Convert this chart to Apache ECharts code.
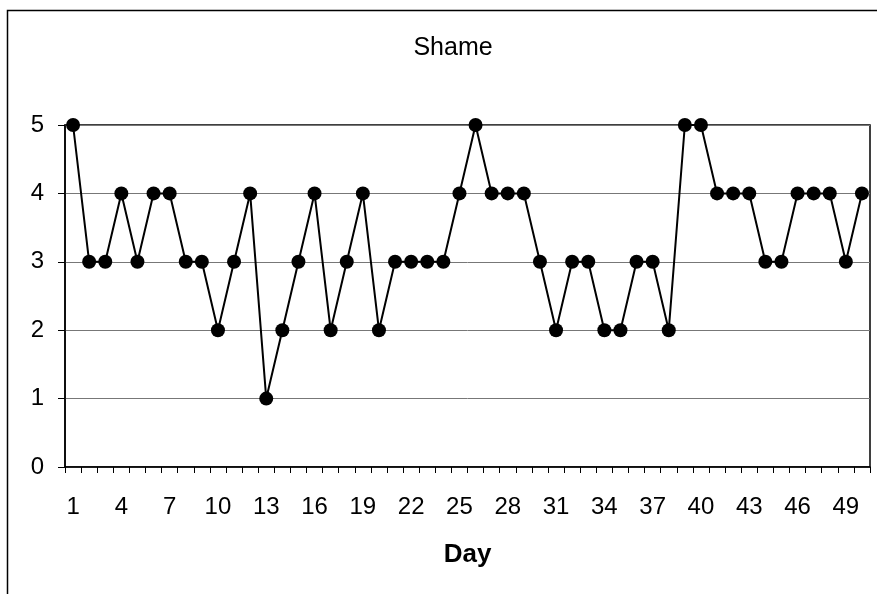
<!DOCTYPE html>
<html><head><meta charset="utf-8">
<script src="https://cdn.jsdelivr.net/npm/echarts@6/dist/echarts.min.js"></script>
<style>html,body{margin:0;padding:0;background:#fff}#c{width:877px;height:594px}</style>
</head><body><div id="c"></div>
<script>
var days = [];
for (var i = 1; i <= 50; i++) days.push(String(i));
var shame = [5,3,3,4,3,4,4,3,3,2,3,4,1,2,3,4,2,3,4,2,3,3,3,3,4,5,4,4,4,3,2,3,3,2,2,3,3,2,5,5,4,4,4,3,3,4,4,4,3,4];
var yTicks = [0,1,2,3,4,5];
var F = '"Liberation Sans", Arial, sans-serif';
var chart = echarts.init(document.getElementById('c'));
chart.setOption({
  backgroundColor:'#fff',
  animation:false,
  title:{text:'Shame', left:448, top:31, textAlign:'center',
    textStyle:{fontFamily:F, fontSize:25, fontWeight:'normal', color:'#000'}},
  graphic:[{type:'rect', shape:{x:7.5, y:10.5, width:900, height:700},
    style:{fill:'none', stroke:'#000', lineWidth:1.5}, z:-1}],
  grid:{left:65, right:7, top:125, bottom:127, show:true, borderColor:'#000', borderWidth:1.5},
  xAxis:{type:'category', data:days, boundaryGap:true,
    name:'Day', nameLocation:'middle', nameGap:75,
    nameTextStyle:{fontFamily:F, fontSize:26, fontWeight:'bold', color:'#000'},
    axisLine:{lineStyle:{color:'#000', width:1.5}},
    axisTick:{show:true, interval:0, length:6, lineStyle:{color:'#000'}},
    axisLabel:{interval:2, margin:28, fontFamily:F, fontSize:24, color:'#000'}},
  yAxis:{type:'value', min:0, max:5, interval:1,
    axisLine:{show:true, lineStyle:{color:'#000', width:1.5}},
    axisTick:{show:true, length:7, lineStyle:{color:'#000'}},
    axisLabel:{margin:21, fontFamily:F, fontSize:24, color:'#000'},
    splitLine:{show:true, lineStyle:{color:'#777', width:1}}},
  series:[{type:'line', data:shame, symbol:'circle', symbolSize:14, showAllSymbol:true,
    itemStyle:{color:'#000'}, lineStyle:{color:'#000', width:2}}]
});
</script></body></html>
